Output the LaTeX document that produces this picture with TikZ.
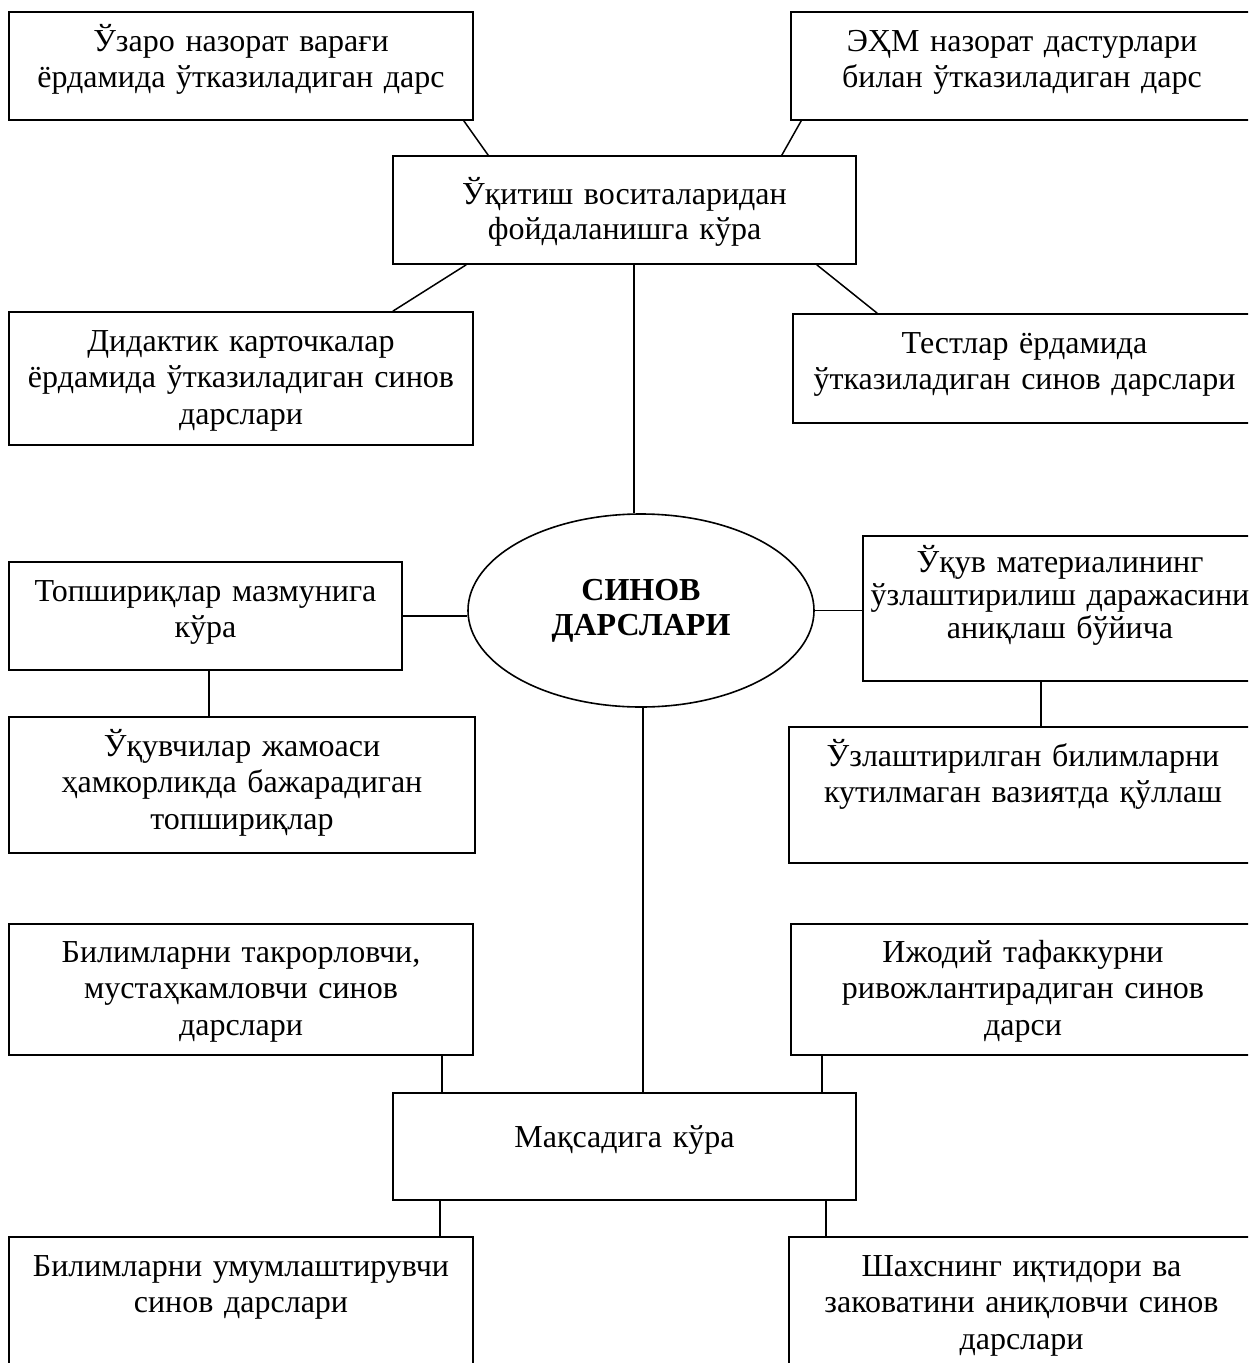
\documentclass[tikz,border=0pt]{standalone}
\usepackage{fontspec}
\setmainfont{Liberation Serif}
\usetikzlibrary{shapes.geometric, fit}

\begin{document}
\begin{tikzpicture}[x=1pt, y=-1pt,
    frame/.style={draw, line width=1.6pt, inner sep=0pt},
    txt/.style={anchor=base, align=center, text width=600pt, inner sep=0pt,
        font=\fontsize{32}{36.7}\selectfont},
    link/.style={line width=1.5pt}]
    \useasboundingbox (0,0) rectangle (1248,1363);
    \clip (0,0) rectangle (1248,1363);

    % Teaching means
    \node[frame, fit={(393,156) (856,264)}] (means) {};
    \node[txt, font=\fontsize{32}{35}\selectfont] (means-t) at ([yshift=-49pt]means.north) {Ўқитиш воситаларидан\\фойдаланишга кўра};
    \node[frame, fit={(9,12) (473,120)}] (mutual) {};
    \node[txt] (mutual-t) at ([yshift=-40pt]mutual.north) {Ўзаро назорат варағи\\ёрдамида ўтказиладиган дарс};
    \node[frame, fit={(791,12) (1253,120)}] (computer) {};
    \node[txt] (computer-t) at ([yshift=-40pt]computer.north) {ЭҲМ назорат дастурлари\\билан ўтказиладиган дарс};
    \node[frame, fit={(9,312) (473,445)}] (cards) {};
    \node[txt] (cards-t) at ([yshift=-40pt]cards.north) {Дидактик карточкалар\\ёрдамида ўтказиладиган синов\\дарслари};
    \node[frame, fit={(793,314) (1256,423)}] (tests) {};
    \node[txt] (tests-t) at ([yshift=-40pt]tests.north) {Тестлар ёрдамида\\ўтказиладиган синов дарслари};

    \draw[link] ([xshift=-10pt]mutual.south east) -- ([xshift=96pt]means.north west);
    \draw[link] ([xshift=11pt]computer.south west) -- ([xshift=-75pt]means.north east);
    \draw[link] ([xshift=74pt]means.south west) -- ([xshift=-81pt]cards.north east);
    \draw[link] ([xshift=-40pt]means.south east) -- ([xshift=85pt]tests.north west);

    % Centre
    \node[draw, ellipse, line width=1.6pt, inner sep=0pt, minimum width=346pt, minimum height=193pt,
        align=center, font=\bfseries\fontsize{32}{35}\selectfont] (sinov) at (641,610.5) {СИНОВ\\ДАРСЛАРИ};
    \draw[link] ([xshift=9.5pt]means.south) -- ([xshift=9.5pt]means.south |- sinov.north);

    % Task content
    \node[frame, fit={(9,562) (402,670)}] (tasks) {};
    \node[txt] (tasks-t) at ([yshift=-40pt]tasks.north) {Топшириқлар мазмунига\\кўра};
    \node[frame, fit={(9,717) (475,853)}] (team) {};
    \node[txt] (team-t) at ([yshift=-40pt]team.north) {Ўқувчилар жамоаси\\ҳамкорликда бажарадиган\\топшириқлар};
    \draw[link] (tasks.east) -- (tasks.east -| sinov.west);
    \draw[link] ([xshift=3.5pt]tasks.south) -- ([xshift=3.5pt]tasks.south |- team.north);

    % Mastery level
    \node[frame, fit={(863,536) (1257,681)}] (level) {};
    \node[txt, font=\fontsize{32}{33}\selectfont] (level-t) at ([yshift=-37pt]level.north) {Ўқув материалининг\\ўзлаштирилиш даражасини\\аниқлаш бўйича};
    \node[frame, fit={(789,727) (1257,863)}] (apply) {};
    \node[txt] (apply-t) at ([yshift=-40pt]apply.north) {Ўзлаштирилган билимларни\\кутилмаган вазиятда қўллаш};
    \draw[link] (sinov.east) -- (sinov.east -| level.west);
    \draw[link] ([xshift=-19pt]level.south) -- ([xshift=-19pt]level.south |- apply.north);

    % Purpose
    \node[frame, fit={(393,1093) (856,1200)}] (goal) {};
    \node[txt] (goal-t) at ([yshift=-55pt]goal.north) {Мақсадига кўра};
    \node[frame, fit={(9,924) (473,1055)}] (repeat) {};
    \node[txt] (repeat-t) at ([yshift=-39pt]repeat.north) {Билимларни такрорловчи,\\мустаҳкамловчи синов\\дарслари};
    \node[frame, fit={(791,924) (1255,1055)}] (creative) {};
    \node[txt] (creative-t) at ([yshift=-39pt]creative.north) {Ижодий тафаккурни\\ривожлантирадиган синов\\дарси};
    \node[frame, fit={(9,1237) (473,1390)}] (general) {};
    \node[txt] (general-t) at ([yshift=-40pt]general.north) {Билимларни умумлаштирувчи\\синов дарслари};
    \node[frame, fit={(789,1237) (1254,1390)}] (talent) {};
    \node[txt] (talent-t) at ([yshift=-40pt]talent.north) {Шахснинг иқтидори ва\\заковатини аниқловчи синов\\дарслари};

    \draw[link] ([xshift=2pt]sinov.south) -- ([xshift=2pt]sinov.south |- goal.north);
    \draw[link] ([xshift=-32pt]repeat.south east) -- ([xshift=-32pt]repeat.south east |- goal.north);
    \draw[link] ([xshift=32pt]creative.south west) -- ([xshift=32pt]creative.south west |- goal.north);
    \draw[link] ([xshift=48pt]goal.south west) -- ([xshift=48pt]goal.south west |- general.north);
    \draw[link] ([xshift=-31pt]goal.south east) -- ([xshift=-31pt]goal.south east |- talent.north);
\end{tikzpicture}
\end{document}
